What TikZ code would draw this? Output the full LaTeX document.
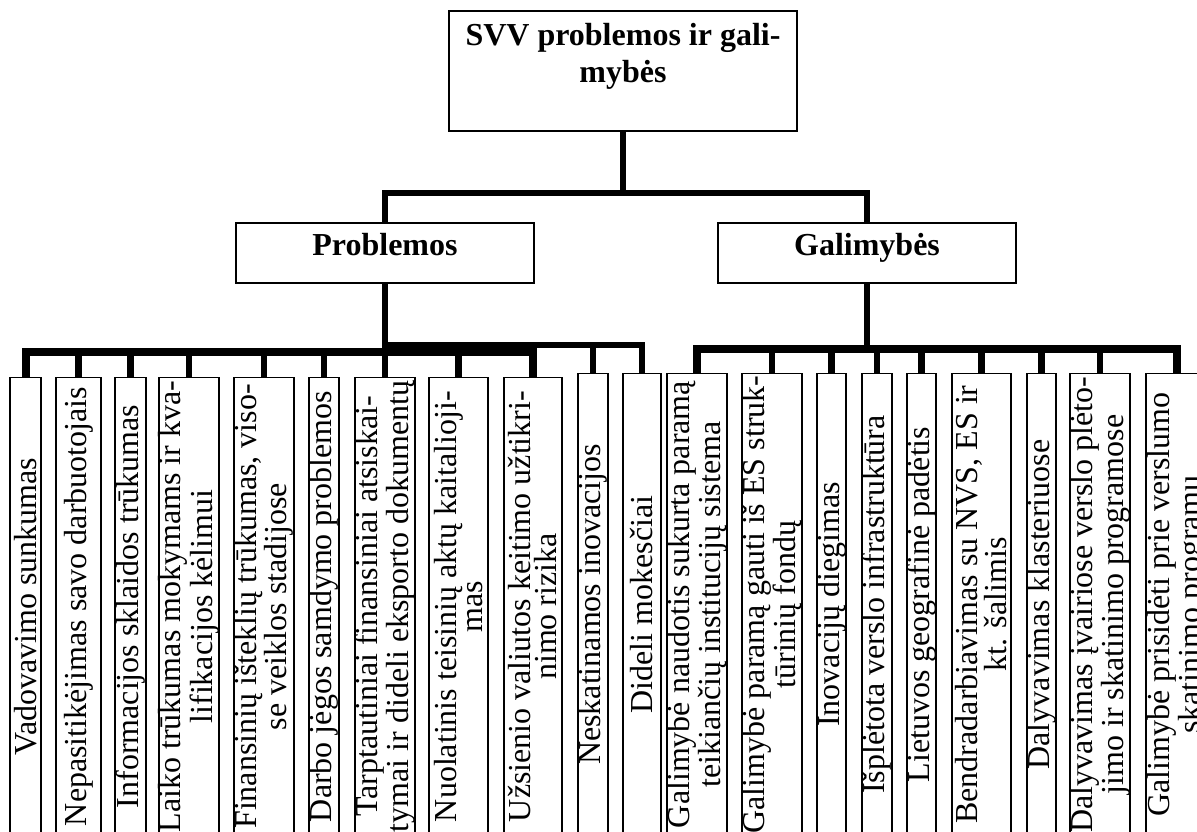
\documentclass[tikz,border=0pt]{standalone}
\usepackage{fontspec}
\setmainfont{Liberation Serif}

\begin{document}
\begin{tikzpicture}[
  x=0.5pt, y=-0.5pt,
  box/.style={draw, line width=0.9pt, inner sep=0pt},
  head/.style={box, align=center, font=\bfseries\fontsize{16pt}{18.5pt}\selectfont},
  mid/.style={head, minimum width=149pt, minimum height=30pt, text height=11pt, text depth=9pt},
  leaf/.style={box, rotate=90, align=center, inner xsep=0.5pt, font=\fontsize{16pt}{13pt}\selectfont},
  low/.style={leaf, minimum width=229pt},
  high/.style={leaf, minimum width=231pt},
  link/.style={line width=3.2pt},
  bus/.style={line width=4pt}
]
\useasboundingbox (0,0) rectangle (1197,831);

% top levels
\node[head, minimum width=174pt, minimum height=60pt] (root) at (623,71) {SVV problemos ir gali-\\mybės\\\mbox{}};
\node[mid] (prob) at (385,253) {Problemos};
\node[mid] (gal) at (867,253) {Galimybės};

% problems
\node[low, minimum height=15.5pt] (p1) at (25.5,606.5) {Vadovavimo sunkumas};
\node[low, minimum height=22.5pt] (p2) at (78.5,606.5) {Nepasitikėjimas savo darbuotojais};
\node[low, minimum height=15.5pt] (p3) at (130.5,606.5) {Informacijos sklaidos trūkumas};
\node[low, minimum height=30pt] (p4) at (189,606.5) {Laiko trūkumas mokymams ir kva-\\lifikacijos kėlimui};
\node[low, minimum height=30pt] (p5) at (264,606.5) {Finansinių išteklių trūkumas, viso-\\se veiklos stadijose};
\node[low, minimum height=15pt] (p6) at (324,606.5) {Darbo jėgos samdymo problemos};
\node[low, minimum height=29.5pt] (p7) at (385,606.5) {Tarptautiniai finansiniai atsiskai-\\tymai ir dideli eksporto dokumentų};
\node[low, minimum height=29.5pt] (p8) at (458.5,606.5) {Nuolatinis teisinių aktų kaitalioji-\\mas};
\node[low, minimum height=29pt] (p9) at (533,606.5) {Užsienio valiutos keitimo užtikri-\\nimo rizika};
\node[high, minimum height=15pt] (p10) at (593,604.5) {Neskatinamos inovacijos};
\node[high, minimum height=19pt] (p11) at (642,604.5) {Dideli mokesčiai};

% opportunities
\node[high, minimum height=30pt] (g1) at (697,604.5) {Galimybė naudotis sukurta paramą\\teikiančių institucijų sistema};
\node[high, minimum height=30pt] (g2) at (772,604.5) {Galimybė paramą gauti iš ES struk-\\tūrinių fondų};
\node[high, minimum height=14.5pt] (g3) at (831.5,604.5) {Inovacijų diegimas};
\node[high, minimum height=15pt] (g4) at (877,604.5) {Išplėtota verslo infrastruktūra};
\node[high, minimum height=14.5pt] (g5) at (921.5,604.5) {Lietuvos geografinė padėtis};
\node[high, minimum height=29.5pt] (g6) at (981.5,604.5) {Bendradarbiavimas su NVS, ES ir\\kt. šalimis};
\node[high, minimum height=14.5pt] (g7) at (1041.5,604.5) {Dalyvavimas klasteriuose};
\node[high, minimum height=29pt] (g8) at (1100,604.5) {Dalyvavimas įvairiose verslo plėto-\\jimo ir skatinimo programose};
\node[high, minimum height=31pt] (g9) at (1177,604.5) {Galimybė prisidėti prie verslumo\\skatinimo programų};

\coordinate (split) at (623,193);
\coordinate (pbus) at (0,352);
\coordinate (pbus2) at (0,345);
\coordinate (gbus) at (0,349);

\draw[link] (root) -- (split);
\draw[link] (prob.north) |- (split) -| (gal.north);

% problem side
\draw[bus] (p1.east) |- (p9.east |- pbus) -- (p9.east);
\draw[link] (p2.east) -- (p2.east |- pbus) (p3.east) -- (p3.east |- pbus)
  (p4.east) -- (p4.east |- pbus) (p5.east) -- (p5.east |- pbus)
  (p6.east) -- (p6.east |- pbus) (p8.east) -- (p8.east |- pbus);
\draw[link] (prob.south) -- (p7.east);
\draw[link] (prob.south |- pbus2) -| (p11.east);
\draw[link] (p10.east) -- (p10.east |- pbus2);

% opportunity side
\draw[bus] (g1.east) |- (g9.east |- gbus) -- (g9.east);
\draw[link] (gal.south) -- (gal.south |- gbus);
\draw[link] (g2.east) -- (g2.east |- gbus) (g3.east) -- (g3.east |- gbus)
  (g4.east) -- (g4.east |- gbus) (g5.east) -- (g5.east |- gbus)
  (g6.east) -- (g6.east |- gbus) (g7.east) -- (g7.east |- gbus)
  (g8.east) -- (g8.east |- gbus);
\end{tikzpicture}
\end{document}
